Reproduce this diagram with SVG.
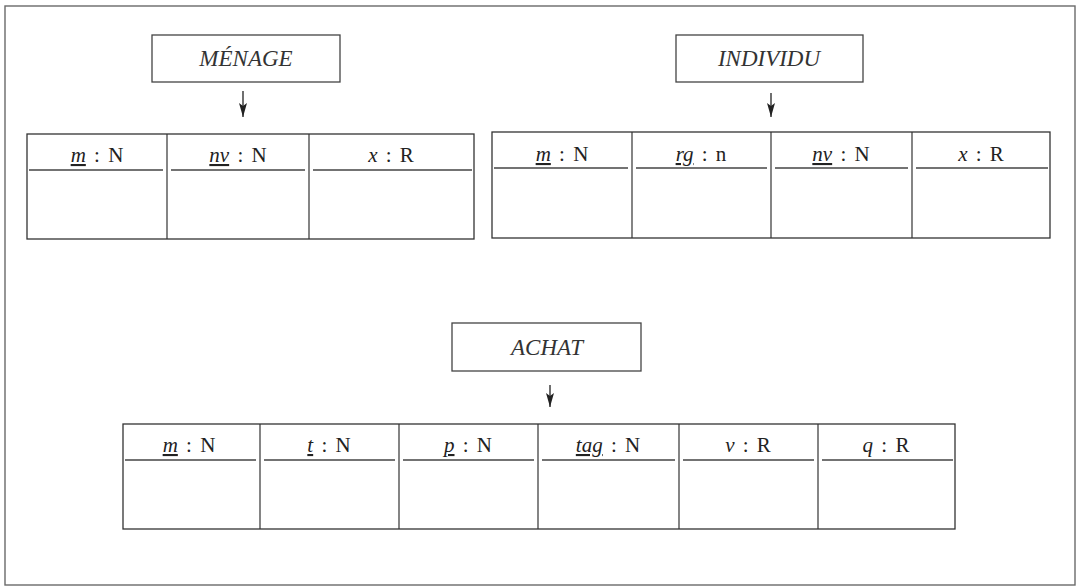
<svg xmlns="http://www.w3.org/2000/svg" width="1082" height="586" viewBox="0 0 1082 586">
<style>
.frame{fill:none;stroke:#6a6a6a;stroke-width:1.4}
.box{fill:#fff;stroke:#444;stroke-width:1.3}
.tbl{fill:#fff;stroke:#333;stroke-width:1.3}
.div{stroke:#333;stroke-width:1.2}
.hl{stroke:#444;stroke-width:1.4}
.title{font-family:"Liberation Serif",serif;font-style:italic;font-size:23px;fill:#333;text-anchor:middle}
.hd{font-family:"Liberation Serif",serif;font-size:21px;fill:#222;text-anchor:middle;word-spacing:3px}
.it{font-style:italic}
.u{font-style:italic;text-decoration:underline}
.arr{stroke:#222;stroke-width:1.3;fill:none}
</style>
<defs>
<marker id="ah" markerWidth="14" markerHeight="8" refX="14" refY="4" orient="auto" markerUnits="userSpaceOnUse" viewBox="0 0 14 8">
<path d="M0,0 L3,4 L0,8 L14,4 Z" fill="#222"/>
</marker>
</defs>
<rect width="1082" height="586" fill="#fff"/>
<rect class="frame" x="5" y="6" width="1070" height="579"/>

<g id="menage">
<rect class="box" x="152" y="35" width="188" height="47"/>
<text class="title" x="246" y="66">MÉNAGE</text>
</g>
<g id="individu">
<rect class="box" x="676" y="35" width="187" height="47"/>
<text class="title" x="769" y="66">INDIVIDU</text>
</g>
<g id="achat">
<rect class="box" x="452" y="323" width="189" height="48"/>
<text class="title" x="547" y="355">ACHAT</text>
</g>

<g id="table-menage">
<rect class="tbl" x="27" y="134" width="447" height="105"/>
<line class="div" x1="167" y1="134" x2="167" y2="239"/>
<line class="div" x1="309" y1="134" x2="309" y2="239"/>
<line class="hl" x1="29" y1="170" x2="163" y2="170"/>
<line class="hl" x1="171" y1="170" x2="305" y2="170"/>
<line class="hl" x1="313" y1="170" x2="472" y2="170"/>
<text class="hd" x="97" y="162"><tspan class="u">m</tspan> : N</text>
<text class="hd" x="238" y="162"><tspan class="u">nv</tspan> : N</text>
<text class="hd" x="391" y="162"><tspan class="it">x</tspan> : R</text>
</g>

<g id="table-individu">
<rect class="tbl" x="492" y="132" width="558" height="106"/>
<line class="div" x1="632" y1="132" x2="632" y2="238"/>
<line class="div" x1="771" y1="132" x2="771" y2="238"/>
<line class="div" x1="912" y1="132" x2="912" y2="238"/>
<line class="hl" x1="494" y1="168" x2="628" y2="168"/>
<line class="hl" x1="636" y1="168" x2="767" y2="168"/>
<line class="hl" x1="775" y1="168" x2="908" y2="168"/>
<line class="hl" x1="916" y1="168" x2="1048" y2="168"/>
<text class="hd" x="562" y="161"><tspan class="u">m</tspan> : N</text>
<text class="hd" x="701" y="161"><tspan class="u">rg</tspan> : n</text>
<text class="hd" x="841" y="161"><tspan class="u">nv</tspan> : N</text>
<text class="hd" x="981" y="161"><tspan class="it">x</tspan> : R</text>
</g>

<g id="table-achat">
<rect class="tbl" x="123" y="424" width="832" height="105"/>
<line class="div" x1="260" y1="424" x2="260" y2="529"/>
<line class="div" x1="399" y1="424" x2="399" y2="529"/>
<line class="div" x1="538" y1="424" x2="538" y2="529"/>
<line class="div" x1="679" y1="424" x2="679" y2="529"/>
<line class="div" x1="818" y1="424" x2="818" y2="529"/>
<line class="hl" x1="125" y1="460" x2="256" y2="460"/>
<line class="hl" x1="264" y1="460" x2="395" y2="460"/>
<line class="hl" x1="403" y1="460" x2="534" y2="460"/>
<line class="hl" x1="542" y1="460" x2="675" y2="460"/>
<line class="hl" x1="683" y1="460" x2="814" y2="460"/>
<line class="hl" x1="822" y1="460" x2="953" y2="460"/>
<text class="hd" x="189" y="452"><tspan class="u">m</tspan> : N</text>
<text class="hd" x="329" y="452"><tspan class="u">t</tspan> : N</text>
<text class="hd" x="468" y="452"><tspan class="u">p</tspan> : N</text>
<text class="hd" x="608" y="452"><tspan class="u">tag</tspan> : N</text>
<text class="hd" x="748" y="452"><tspan class="it">v</tspan> : R</text>
<text class="hd" x="886" y="452"><tspan class="it">q</tspan> : R</text>
</g>

<g id="connectors">
<line class="arr" x1="243" y1="91" x2="243" y2="117" marker-end="url(#ah)"/>
<line class="arr" x1="771" y1="93" x2="771" y2="117" marker-end="url(#ah)"/>
<line class="arr" x1="550" y1="385" x2="550" y2="407" marker-end="url(#ah)"/>
</g>
</svg>
